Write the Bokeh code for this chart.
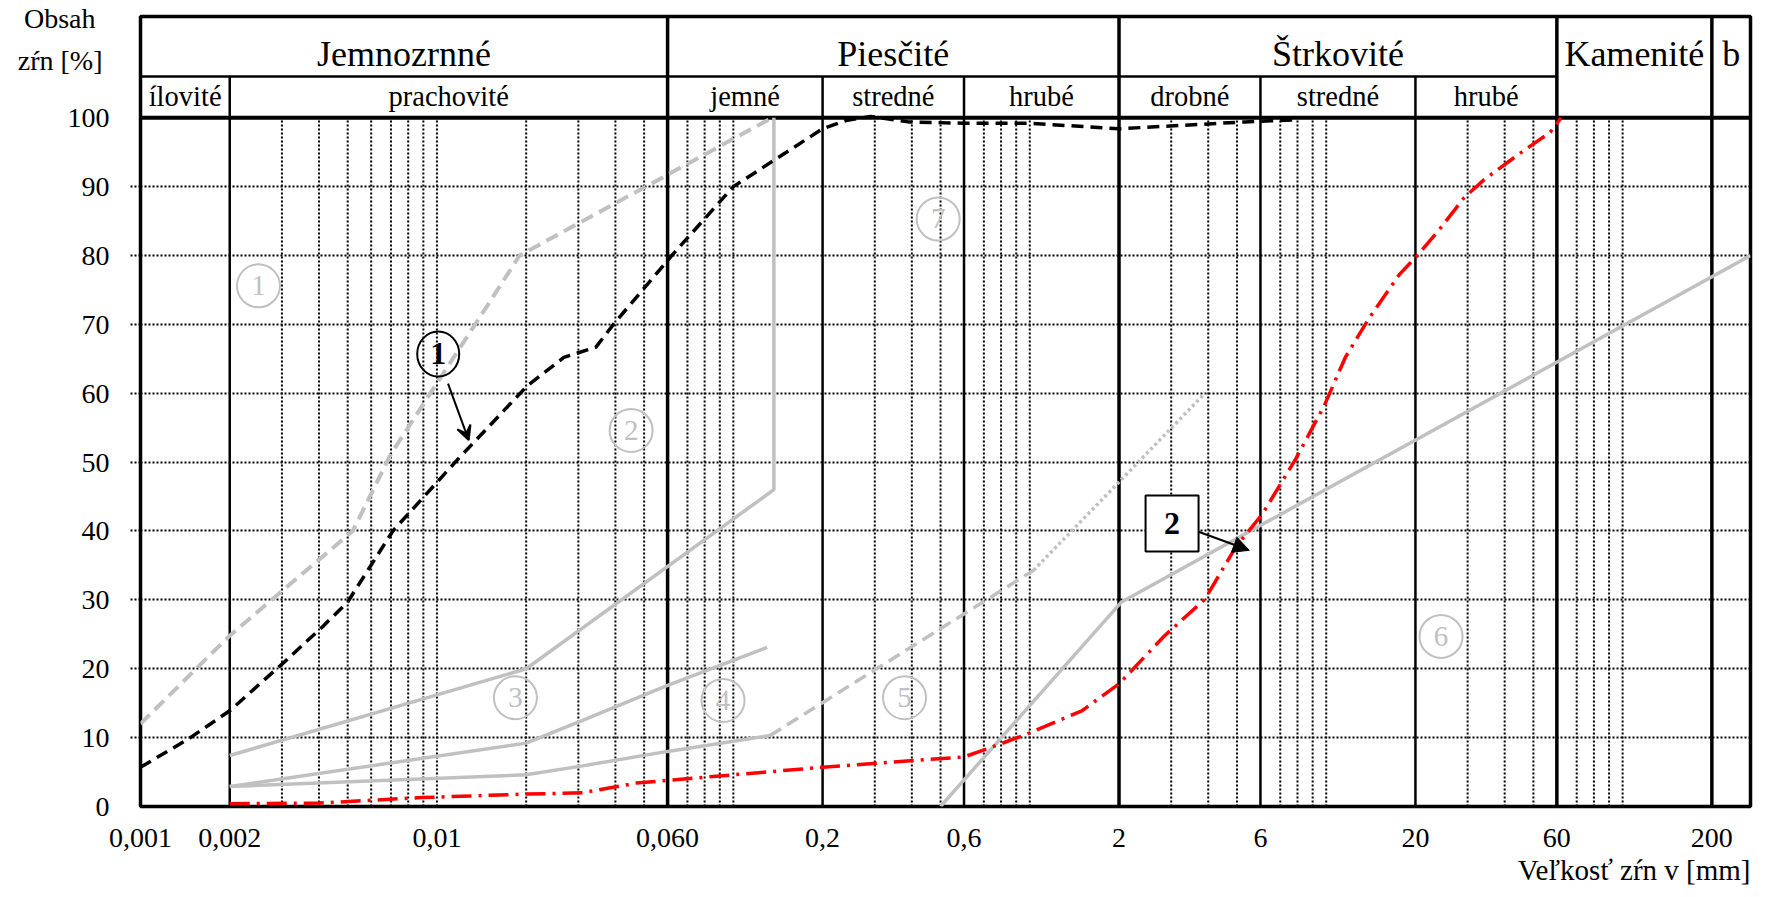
from bokeh.plotting import figure
from bokeh.models import FixedTicker, Arrow, VeeHead, NormalHead, LinearAxis, Title
from bokeh.core.properties import value
from bokeh.embed import file_html
from bokeh.resources import INLINE
import math

# ---------------- data ----------------
x_ticks = [0.001, 0.002, 0.01, 0.06, 0.2, 0.6, 2, 6, 20, 60, 200]
x_tick_labels = ["0,001", "0,002", "0,01", "0,060", "0,2", "0,6", "2", "6", "20", "60", "200"]
y_ticks = [0, 10, 20, 30, 40, 50, 60, 70, 80, 90, 100]
y_title_lines = ["Obsah\u00a0\u00a0", "zŕn [%]\u00a0"]
x_title = "Veľkosť zŕn v [mm]"

group_names = ["Jemnozrnné", "Piesčité", "Štrkovité", "Kamenité", "b"]
group_bounds = [0.001, 0.06, 2, 60, 200, 270]
sub_names = ["ílovité", "prachovité", "jemné", "stredné", "hrubé", "drobné", "stredné", "hrubé"]
sub_bounds = [0.001, 0.002, 0.06, 0.2, 0.6, 2, 6, 20, 60]
minor_sizes = [0.003, 0.004, 0.005, 0.006, 0.007, 0.008, 0.009, 0.01,
               0.02, 0.03, 0.04, 0.05,
               0.07, 0.08, 0.09, 0.1,
               0.3, 0.4, 0.5,
               0.7, 0.8, 0.9, 1.0,
               3, 4, 5,
               7, 8, 9, 10,
               30, 40, 50,
               70, 80, 90, 100]

# curve 1 (light grey dashed)
c1_size = [0.001, 0.0016, 0.002, 0.00275, 0.0052, 0.007, 0.0152, 0.019, 0.135]
c1_pass = [12, 20.7, 24.8, 29.9, 40, 51.2, 73.5, 80, 100]
# sample 1 (black dashed)
s1_size = [0.001, 0.00145, 0.002, 0.00306, 0.00416, 0.005, 0.0071, 0.0117, 0.0202,
           0.0268, 0.0344, 0.0394, 0.062, 0.10, 0.2, 0.24, 0.29, 0.39, 0.6, 1.0,
           2.0, 3.3, 5.3, 7.8]
s1_pass = [5.7, 9.8, 13.9, 21.0, 26.3, 29.7, 40, 50.3, 61.1,
           65.2, 66.7, 70, 80, 90, 98.4, 99.6, 100.2, 99.4, 99.2, 99.2,
           98.4, 98.9, 99.4, 99.7]
# curve 2 (grey solid)
c2_size = [0.002, 0.02, 0.137, 0.137]
c2_pass = [7.4, 20, 46, 100]
# curve 3 (grey solid)
c3_size = [0.002, 0.02, 0.031, 0.06, 0.13]
c3_pass = [2.9, 9.2, 12.5, 17.6, 23.1]
# curve 4 (grey solid) continued by curve 5 (dashed) and dotted part
c4_size = [0.002, 0.02, 0.031, 0.06, 0.133]
c4_pass = [2.9, 4.6, 5.9, 8.0, 10.3]
c5_size = [0.133, 1.03]
c5_pass = [10.3, 34.3]
c5d_size = [1.03, 3.9]
c5d_pass = [34.3, 60]
# curve 6 (grey solid)
c6_size = [0.5, 2.04, 270]
c6_pass = [0, 29.7, 80]
# sample 2 (red dash-dot)
s2_size = [0.002, 0.004, 0.0089, 0.02, 0.031, 0.047, 0.2, 0.6, 0.69, 0.95, 1.5, 2.0,
           2.85, 3.9, 4.94, 6.1, 7.9, 9.85, 11.6, 13.9, 17.7, 20.3, 23.9, 29.2,
           34.3, 44.6, 57, 62]
s2_pass = [0.4, 0.5, 1.3, 1.8, 2.0, 3.4, 5.7, 7.2, 8.1, 10.3, 13.9, 17.8,
           24.8, 30.1, 37.6, 42.5, 50.5, 58.2, 65.2, 70.8, 77.3, 80, 83.6, 88.4,
           91.1, 94.7, 97.9, 100]

# circled curve labels (grey)
lab_text = ["1", "2", "3", "4", "5", "6", "7"]
lab_size = [0.0025, 0.0452, 0.0184, 0.0923, 0.378, 24.4, 0.491]
lab_pass = [75.6, 54.6, 15.8, 15.4, 15.8, 24.7, 85.3]

# ---------------- figure ----------------
Y_TOP = 114.7
Y_SUB = 106.0
Y_TITLE = [114.35, 108.3]
Y_HEAD = 109.3
Y_SUBHEAD = 103.1
GREY = "#c0c0c0"
FONT = "Liberation Serif"
DOT = "2 2"

p = figure(x_axis_type="log", x_range=(0.001, 270), y_range=(0, Y_TOP),
           frame_width=1610, frame_height=790,
           min_border_left=140, min_border_right=10, min_border_top=16, min_border_bottom=5,
           output_backend="svg", toolbar_location=None)
p.outline_line_color = "black"
p.outline_line_width = 3.5
p.xgrid.visible = False
p.ygrid.ticker = FixedTicker(ticks=y_ticks[1:-1])
p.ygrid.grid_line_color = "black"
p.ygrid.grid_line_width = 2
p.ygrid.grid_line_dash = DOT

# x axis
p.xaxis.ticker = FixedTicker(ticks=x_ticks)
p.xaxis.major_label_overrides = {t: l for t, l in zip(x_ticks, x_tick_labels)}
p.xaxis.major_tick_out = 0
p.xaxis.major_tick_in = 0
p.xaxis.minor_tick_line_color = None
p.xaxis.axis_line_color = None
p.xaxis.major_label_standoff = 22
p.xaxis.major_label_text_font = FONT
p.xaxis.major_label_text_font_size = "28px"
p.xaxis.major_label_text_color = "black"
p.add_layout(Title(text=x_title, align="right", text_font=FONT, text_font_size="29px",
                   text_font_style="normal", text_color="black", standoff=4), "below")

# y axis: inner axis only gives the dotted tick stubs
ya = p.yaxis[0]
ya.ticker = FixedTicker(ticks=y_ticks[1:-1])
ya.major_label_overrides = {t: "" for t in y_ticks[1:-1]}
ya.major_label_standoff = 0
ya.major_tick_out = 10
ya.major_tick_in = 0
ya.major_tick_line_dash = DOT
ya.major_tick_line_width = 2
ya.minor_tick_line_color = None
ya.axis_line_color = None

# outer axis carries the numbers and the axis title
yb = LinearAxis(ticker=FixedTicker(ticks=y_ticks + Y_TITLE),
                major_label_overrides={Y_TITLE[0]: y_title_lines[0], Y_TITLE[1]: y_title_lines[1]},
                major_tick_out=0, major_tick_in=0, minor_tick_line_color=None, axis_line_color=None,
                major_label_standoff=21, major_label_text_font=FONT,
                major_label_text_font_size="28px", major_label_text_color="black")
p.add_layout(yb, "left")

# minor vertical dotted grid
p.segment(x0=minor_sizes, y0=[0] * len(minor_sizes), x1=minor_sizes, y1=[100] * len(minor_sizes),
          line_color="black", line_width=2, line_dash=DOT)

# main boundaries
main_lines = group_bounds[1:-1]
sub_lines = [b for b in sub_bounds[1:-1] if b not in group_bounds]
p.segment(x0=main_lines, y0=[0] * len(main_lines), x1=main_lines, y1=[Y_TOP] * len(main_lines),
          line_color="black", line_width=3.5)
p.segment(x0=sub_lines, y0=[0] * len(sub_lines), x1=sub_lines, y1=[Y_SUB] * len(sub_lines),
          line_color="black", line_width=2.5)
p.segment(x0=[group_bounds[0]], y0=[100], x1=[group_bounds[-1]], y1=[100], line_color="black", line_width=4)
p.segment(x0=[sub_bounds[0]], y0=[Y_SUB], x1=[sub_bounds[-1]], y1=[Y_SUB], line_color="black", line_width=2.5)

# header texts
gx = [math.sqrt(a * b) for a, b in zip(group_bounds[:-1], group_bounds[1:])]
p.text(x=gx, y=[Y_HEAD] * len(gx), text=group_names, text_align="center", text_baseline="middle",
       text_font=value(FONT), text_font_size="36px", text_color="black")
sx = [math.sqrt(a * b) for a, b in zip(sub_bounds[:-1], sub_bounds[1:])]
p.text(x=sx, y=[Y_SUBHEAD] * len(sx), text=sub_names, text_align="center", text_baseline="middle",
       text_font=value(FONT), text_font_size="28.5px", text_color="black")

# curves
p.line(c2_size, c2_pass, line_color=GREY, line_width=3.5)
p.line(c3_size, c3_pass, line_color=GREY, line_width=3.5)
p.line(c4_size, c4_pass, line_color=GREY, line_width=3.5)
p.line(c5_size, c5_pass, line_color=GREY, line_width=3.5, line_dash="13 7")
p.line(c5d_size, c5d_pass, line_color=GREY, line_width=3.5, line_dash="3 3")
p.line(c6_size, c6_pass, line_color=GREY, line_width=3.5)
p.line(c1_size, c1_pass, line_color=GREY, line_width=4, line_dash="13 7")
p.line(s1_size, s1_pass, line_color="black", line_width=3.5, line_dash="12 7")
p.line(s2_size, s2_pass, line_color="#ff0000", line_width=3.5, line_dash="20 7 3 7")

# circled grey labels
p.scatter(lab_size, lab_pass, marker="circle", size=43, fill_color=None, line_color=GREY, line_width=2)
p.text(x=lab_size, y=lab_pass, text=lab_text, text_align="center", text_baseline="middle",
       text_font=value(FONT), text_font_size="29px", text_color=GREY)

# sample marker "1"
p.ellipse(x=[0.0101], y=[65.7], width=42, height=45, width_units="screen", height_units="screen",
          fill_color=None, line_color="black", line_width=2)
p.text(x=[0.0101], y=[65.7], text=["1"], text_align="center", text_baseline="middle",
       text_font=value(FONT), text_font_size="32px", text_font_style="bold", text_color="black")
p.add_layout(Arrow(end=VeeHead(size=14, line_width=2, line_color="black"),
                   x_start=0.0109, y_start=61.4, x_end=0.0128, y_end=53.2,
                   line_width=2, line_color="black"))

# sample marker "2"
p.rect(x=[3.02], y=[41.1], width=53, height=56, width_units="screen", height_units="screen",
       fill_color="white", line_color="black", line_width=2)
p.text(x=[3.02], y=[41.1], text=["2"], text_align="center", text_baseline="middle",
       text_font=value(FONT), text_font_size="32px", text_font_style="bold", text_color="black")
p.add_layout(Arrow(end=NormalHead(size=16, fill_color="black", line_color="black"),
                   x_start=3.71, y_start=39.9, x_end=5.5, y_end=37.2,
                   line_width=2, line_color="black"))

open("out.html", "w").write(file_html(p, INLINE))
